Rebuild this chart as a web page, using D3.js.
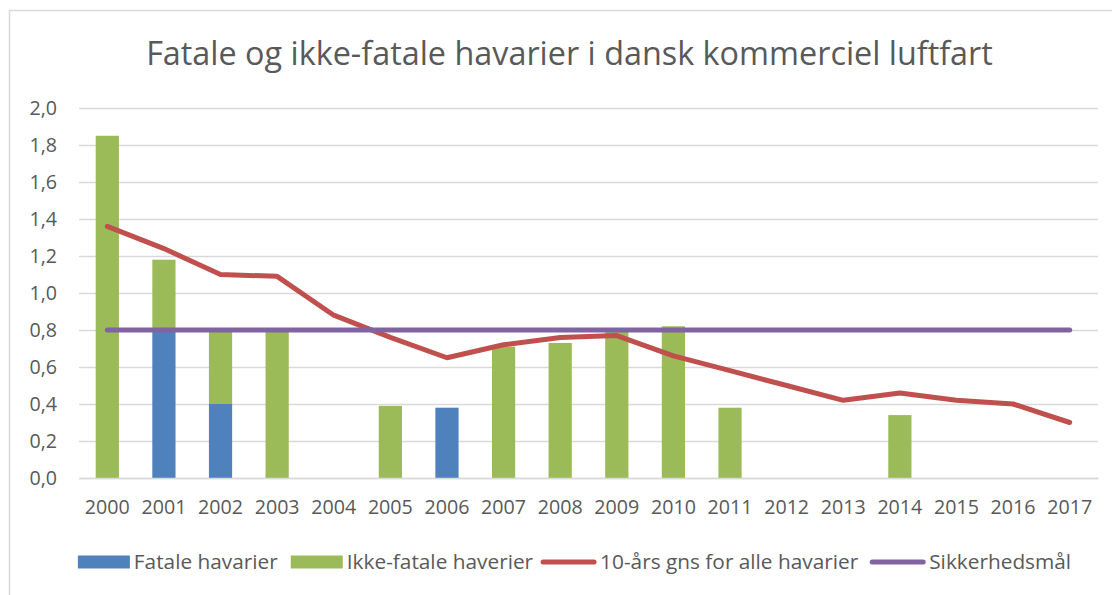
<!DOCTYPE html>
<html>
<head>
<meta charset="utf-8">
<script src="https://cdn.jsdelivr.net/npm/d3@7"></script>
<style>
  body { margin: 0; background: #fff; }
  svg { display: block; }
  text { font-family: "Open Sans", sans-serif; fill: #595959; }
</style>
</head>
<body>
<svg id="chart"></svg>
<script>
var years = ['2000','2001','2002','2003','2004','2005','2006','2007','2008',
  '2009','2010','2011','2012','2013','2014','2015','2016','2017'];
var fatal    = [0, 0.79, 0.40, 0, 0, 0, 0.38, 0, 0, 0, 0, 0, 0, 0, 0, 0, 0, 0];
var nonFatal = [1.85, 0.39, 0.39, 0.79, 0, 0.39, 0, 0.71, 0.73, 0.79, 0.82, 0.38, 0, 0, 0.34, 0, 0, 0];
var avg10    = [1.36, 1.24, 1.10, 1.09, 0.88, 0.76, 0.65, 0.72, 0.76, 0.77, 0.66, 0.58, 0.50, 0.42, 0.46, 0.42, 0.40, 0.30];
var target   = [0.8, 0.8, 0.8, 0.8, 0.8, 0.8, 0.8, 0.8, 0.8, 0.8, 0.8, 0.8, 0.8, 0.8, 0.8, 0.8, 0.8, 0.8];
var yTicks   = [0, 0.2, 0.4, 0.6, 0.8, 1.0, 1.2, 1.4, 1.6, 1.8, 2.0];
var seriesNames = ['Fatale havarier', 'Ikke-fatale haverier', '10-års gns for alle havarier', 'Sikkerhedsmål'];
var title = 'Fatale og ikke-fatale havarier i dansk kommerciel luftfart';

var colors = ['#4f81bd', '#9bbb59', '#c0504d', '#8064a2'];

var W = 1112, H = 595;
var svg = d3.select('#chart').attr('width', W).attr('height', H);

// outer frame (runs off the right/bottom edge like the screenshot)
svg.append('rect')
   .attr('x', 9.5).attr('y', 10.5)
   .attr('width', W + 20).attr('height', H + 20)
   .attr('fill', 'none').attr('stroke', '#d9d9d9').attr('stroke-width', 1.5);

var plotL = 79, plotR = 1098, plotT = 108, plotB = 478;

var x = d3.scaleBand().domain(years).range([plotL, plotR]).paddingInner(0.59).paddingOuter(0.295);
var xc = d3.scalePoint().domain(years).range([plotL, plotR]).padding(0.5);
var y = d3.scaleLinear().domain([0, 2]).range([plotB, plotT]);

// fit a text element's font size to a target width
function fit(sel, width) {
  var w = sel.node().getComputedTextLength();
  var fs = parseFloat(sel.attr('font-size'));
  sel.attr('font-size', fs * width / w);
  return fs * width / w;
}

// title
var t = svg.append('text')
   .attr('x', 569.5).attr('y', 65)
   .attr('text-anchor', 'middle')
   .attr('font-size', 30)
   .text(title);
fit(t, 847);

// gridlines
var yAxis = d3.axisLeft(y).tickValues(yTicks).tickSize(-(plotR - plotL))
  .tickFormat(function(d){ return d3.format('.1f')(d).replace('.', ','); });
var gy = svg.append('g').attr('transform', 'translate(' + plotL + ',0)').call(yAxis);
gy.select('.domain').remove();
gy.selectAll('.tick line').attr('stroke', '#d9d9d9').attr('stroke-width', 1.5);
gy.selectAll('.tick text').attr('x', -22).attr('font-size', 18)
  .attr('font-family', '"Open Sans", sans-serif').attr('fill', '#595959');

// bars (stacked)
var stackData = years.map(function(yr, i){ return {year: yr, fatal: fatal[i], nonFatal: nonFatal[i]}; });
var stack = d3.stack().keys(['fatal', 'nonFatal'])(stackData);

svg.append('g').selectAll('g')
   .data(stack)
   .enter()
   .append('g')
   .attr('fill', function(d, i){ return colors[i]; })
   .selectAll('rect')
   .data(function(d){ return d; })
   .enter()
   .append('rect')
   .attr('x', function(d){ return x(d.data.year); })
   .attr('width', x.bandwidth())
   .attr('y', function(d){ return y(d[1]); })
   .attr('height', function(d){ return y(d[0]) - y(d[1]); });

// x axis
var xAxis = d3.axisBottom(x).tickSize(0).tickPadding(22);
var gx = svg.append('g').attr('transform', 'translate(0,' + plotB + ')').call(xAxis);
gx.select('.domain').attr('stroke', '#d9d9d9').attr('stroke-width', 1.5);
gx.selectAll('.tick text').attr('font-size', 18)
  .attr('font-family', '"Open Sans", sans-serif').attr('fill', '#595959');
fit(gx.select('.tick text'), 45);
var tickFs = gx.select('.tick text').attr('font-size');
gx.selectAll('.tick text').attr('font-size', tickFs);
gy.selectAll('.tick text').attr('font-size', tickFs);

// lines
var line = d3.line().x(function(d, i){ return xc(years[i]); }).y(function(d){ return y(d); });
[avg10, target].forEach(function(s, k){
  svg.append('path')
     .datum(s)
     .attr('d', line)
     .attr('fill', 'none')
     .attr('stroke', colors[k + 2])
     .attr('stroke-width', 5)
     .attr('stroke-linecap', 'round')
     .attr('stroke-linejoin', 'round');
});

// legend
var legend = svg.append('g');
var ly = 562;
var items = legend.selectAll('g').data(seriesNames).enter().append('g');
items.append('text')
     .attr('y', ly).attr('dy', '0.35em')
     .attr('font-size', 18)
     .text(function(d){ return d; });
var lfs = fit(items.select('text').filter(function(d, i){ return i === 0; }), 144);
items.selectAll('text').attr('font-size', lfs);

var gaps = [13, 8, 12];
var cx = 0;
items.each(function(d, i){
  var g = d3.select(this);
  var sw = i < 2 ? 52 : 55;
  if (i < 2) {
    g.append('rect').attr('x', cx).attr('y', ly - 6.5).attr('width', sw).attr('height', 13)
     .attr('fill', colors[i]);
  } else {
    g.append('line').attr('x1', cx + 2).attr('x2', cx + sw - 2).attr('y1', ly).attr('y2', ly)
     .attr('stroke', colors[i]).attr('stroke-width', 5).attr('stroke-linecap', 'round');
  }
  var tx = g.select('text').attr('x', cx + sw + 4);
  cx += sw + 4 + tx.node().getComputedTextLength() + (gaps[i] || 0);
});
legend.attr('transform', 'translate(' + (574.5 - cx / 2) + ',0)');
</script>
</body>
</html>
